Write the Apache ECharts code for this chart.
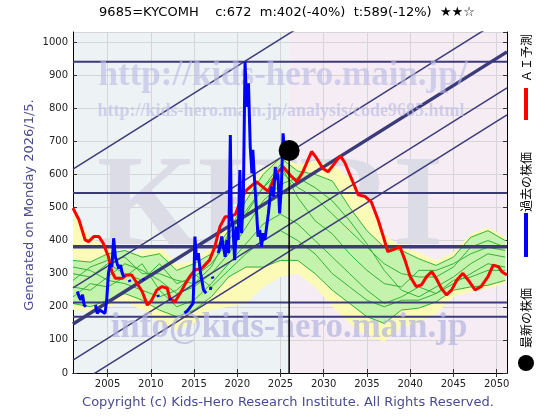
<!DOCTYPE html>
<html><head><meta charset="utf-8">
<script src="https://cdn.jsdelivr.net/npm/echarts@6/dist/echarts.min.js"></script>
<style>html,body{margin:0;padding:0;background:#fff}#c{width:560px;height:420px}</style>
</head><body><div id="c"></div>
<script>
// ---------- data ----------
const titleText = '9685=KYCOMH    c:672  m:402(-40%)  t:589(-12%)  ★★☆';
const xTickYears = [2005,2010,2015,2020,2025,2030,2035,2040,2045,2050];
const latestYear = 2026;
const latestPrice = 672;

const bandYears = [2001,2003,2005,2007,2009,2011,2013,2015,2017,2019,2021,2023,2025,2027,2029,2031,2033,2035,2037,2039,2041,2043,2045,2047,2049,2051];
const yellowUpper = [490,410,380,350,370,385,330,340,380,450,540,620,650,630,640,630,590,520,420,380,365,340,365,420,440,410];
const yellowLower = [190,185,200,215,190,150,130,150,190,200,210,260,290,300,260,200,150,110,95,140,150,180,230,245,255,270];
const greenUpper  = [340,335,360,370,350,360,310,330,360,430,520,600,650,610,600,580,500,430,380,370,345,325,350,410,430,400];
const greenLower  = [210,200,220,240,220,190,170,190,230,290,320,320,340,340,300,250,210,170,150,190,196,215,250,260,265,280];
const path1 = [300,290,330,300,280,330,270,290,330,400,480,560,610,560,530,480,430,380,330,300,290,290,320,380,400,380];
const path2 = [260,250,290,330,310,280,240,260,300,360,440,520,570,590,560,520,460,390,310,250,230,260,290,330,360,350];
const path3 = [230,270,260,290,330,250,200,220,270,330,390,450,480,450,400,350,300,250,210,230,260,240,270,300,330,320];
const path4 = [320,310,280,270,250,230,250,300,260,310,360,400,430,400,360,300,260,220,200,220,220,240,280,290,310,310];
const path5 = [280,320,340,350,300,300,280,270,320,420,490,560,630,530,460,420,360,310,270,260,310,310,330,360,380,370];

const redYears = [2001.0,2001.7,2002.4,2002.8,2003.4,2004.0,2004.5,2005.1,2005.5,2005.9,2006.7,2007.2,2007.8,2008.4,2009.0,2009.6,2010.1,2010.7,2011.3,2011.9,2012.2,2012.8,2013.4,2014.0,2014.5,2015.1,2015.9,2016.8,2017.4,2018.0,2018.6,2019.2,2019.8,2020.5,2021.1,2022.2,2023.6,2024.5,2025.3,2026.1,2026.9,2027.6,2028.6,2029.2,2029.9,2030.5,2031.1,2031.9,2032.4,2033.2,2034.0,2034.8,2035.5,2036.3,2036.9,2037.4,2038.2,2038.8,2039.4,2040.0,2040.7,2041.3,2041.9,2042.5,2043.0,2043.6,2044.2,2044.8,2045.4,2046.1,2046.7,2047.5,2048.2,2049.0,2049.6,2050.2,2050.6,2051.2];
const redValues = [498,462,402,397,412,412,392,351,306,286,286,296,296,271,246,205,220,251,261,256,226,215,241,270,291,311,316,341,381,442,472,472,480,530,553,578,548,603,623,598,578,608,669,648,618,608,628,656,638,588,538,533,517,462,412,367,374,382,341,291,261,266,291,306,286,256,236,251,281,301,281,251,261,291,326,321,306,296];

const blueYears = [2001.5,2001.7,2001.9,2002.1,2002.3,2002.5,2003.0,
  2003.6,2003.8,2004.1,2004.3,2004.7,2004.9,2005.1,2005.3,2005.5,2005.7,2005.9,2006.1,2006.3,2006.5,2006.7,2006.9,2007.2,
  2007.5,2007.6,2008.3, 2009.1,2009.2,2010.0, 2010.8,2010.9,2011.5, 2012.2,2012.3,2013.0,
  2013.9,2014.1,2014.3,2014.5,2014.9,2015.0,2015.1,2015.3,2015.5,2015.7,2015.9,2016.1,2016.4,
  2016.8,2016.9,2016.95, 2017.0,2017.1,2017.2,
  2017.4,2017.8,2018.0,2018.2,2018.6,2018.8,2019.0,2019.2,2019.3,2019.5,2019.7,2019.9,2020.1,2020.3,2020.5,2020.7,2020.9,2021.1,2021.3,2021.5,2021.7,2021.8,2022.0,2022.2,2022.4,2022.6,2022.8,2023.0,2023.2,2023.4,2023.6,2023.8,2024.0,2024.2,2024.4,2024.5,2024.7,2024.9,2025.1,2025.3,2025.5,2025.7,2025.9];
const bluePrices = [246,231,221,236,205,200,null,
  205,180,190,185,180,221,301,331,321,407,351,331,316,326,301,290,null,
  281,275,null, 287,280,null, 236,230,null, 226,220,null,
  181,186,190,196,211,300,412,341,362,311,281,251,241,null,
  251,260,null, 291,285,null,
  362,382,412,351,402,362,719,482,442,341,442,402,613,422,523,940,804,875,684,603,674,583,502,412,432,382,422,402,442,482,533,563,533,623,583,603,482,563,724,653,674,653,672];

const hLineValues = [940, 544, 381, 213, 170];
const hLineWidths = [2, 2, 3.5, 2, 2];
const trendStartYear = 2001, trendEndYear = 2051.2;
const trendStartValues = [616, 257, 148, 39, -42];
const trendEndValues = [1438, 1079, 970, 861, 780];
const trendWidths = [1.5, 1.5, 3.5, 1.5, 1.5];

// ---------- chart ----------
const X_MIN = 2001, X_MAX = 2051.2, Y_MIN = 0, Y_MAX = 1030;
const NAVY = '#3b3b7a';
const chart = echarts.init(document.getElementById('c'), null, {renderer: 'canvas'});
const zip = (xs, vs) => xs.map((x, i) => [x, vs[i] == null ? '-' : vs[i]]);
const series = [];

function band(lower, upper, color) {
  series.push({type: 'custom', silent: true, z: 2, animation: false, clip: true,
    data: [[bandYears[0], lower[0]]],
    renderItem: function (params, api) {
      const pts = [];
      for (let i = 0; i < bandYears.length; i++) pts.push(api.coord([bandYears[i], upper[i]]));
      for (let i = bandYears.length - 1; i >= 0; i--) pts.push(api.coord([bandYears[i], lower[i]]));
      return {type: 'polygon', shape: {points: pts}, style: {fill: color, stroke: null}};
    }});
}
band(yellowLower, yellowUpper, '#fbfab6');
band(greenLower, greenUpper, '#c3f3ac');
[greenUpper, greenLower, path1, path2, path3, path4, path5].forEach(p => {
  series.push({type: 'line', data: zip(bandYears, p), symbol: 'none', silent: true,
    lineStyle: {color: '#36b236', width: 1}, z: 2.5, animation: false});
});
hLineValues.forEach((v, i) => {
  series.push({type: 'line', data: [[X_MIN, v], [X_MAX, v]], symbol: 'none', silent: true,
    lineStyle: {color: NAVY, width: hLineWidths[i]}, z: 3, animation: false});
});
trendStartValues.forEach((v, i) => {
  series.push({type: 'line', data: [[trendStartYear, v], [trendEndYear, trendEndValues[i]]], symbol: 'none', silent: true,
    clip: true, lineStyle: {color: NAVY, width: trendWidths[i]}, z: 3, animation: false});
});
series.push({type: 'line', data: zip(redYears, redValues), symbol: 'none', lineStyle: {color: '#ff0000', width: 3}, z: 4, animation: false});
series.push({type: 'line', data: zip(blueYears, bluePrices), symbol: 'none', connectNulls: false, lineStyle: {color: '#0000ff', width: 3}, z: 4, animation: false});
series.push({type: 'line', data: [[latestYear, 0], [latestYear, latestPrice]], symbol: 'none', lineStyle: {color: '#000', width: 1.5}, z: 4, animation: false});
series.push({type: 'scatter', data: [[latestYear, latestPrice]], symbol: 'circle', symbolSize: 21, itemStyle: {color: '#000', opacity: 1}, z: 5, animation: false});

const axisFont = {fontFamily: 'DejaVu Sans', fontSize: 10, color: '#222', formatter: v => String(v)};
const option = {
  animation: false,
  backgroundColor: '#fff',
  grid: {left: 73, right: 53, top: 32, bottom: 47},
  xAxis: [
    {type: 'value', min: X_MIN, max: X_MAX, position: 'bottom',
     axisLine: {show: true, lineStyle: {color: '#000', width: 1}},
     axisTick: {show: true, inside: true, length: 4, customValues: xTickYears, lineStyle: {color: '#333'}},
     axisLabel: Object.assign({customValues: xTickYears, margin: 6}, axisFont),
     splitLine: {show: true, lineStyle: {color: '#d6d6d6', width: 1}}},
    {type: 'value', min: X_MIN, max: X_MAX, position: 'top',
     axisLine: {show: true, lineStyle: {color: '#000', width: 1}},
     axisTick: {show: true, inside: true, length: 4, customValues: xTickYears, lineStyle: {color: '#333'}},
     axisLabel: {show: false}, splitLine: {show: false}}
  ],
  yAxis: [
    {type: 'value', min: Y_MIN, max: Y_MAX, interval: 100, position: 'left',
     axisLine: {show: true, lineStyle: {color: '#000', width: 1}},
     axisTick: {show: true, inside: true, length: 4, lineStyle: {color: '#333'}},
     axisLabel: Object.assign({showMaxLabel: false, margin: 5}, axisFont),
     splitLine: {show: true, lineStyle: {color: '#d6d6d6', width: 1}}},
    {type: 'value', min: Y_MIN, max: Y_MAX, interval: 100, position: 'right',
     axisLine: {show: true, lineStyle: {color: '#000', width: 1}},
     axisTick: {show: true, inside: true, length: 4, lineStyle: {color: '#333'}},
     axisLabel: {show: false}, splitLine: {show: false}}
  ],
  series: series
};
chart.setOption(option);

const px = v => chart.convertToPixel({xAxisIndex: 0}, v);
const py = v => chart.convertToPixel({yAxisIndex: 0}, v);
const xL = px(X_MIN), xS = px(latestYear), xR = px(X_MAX), yT = py(Y_MAX), yB = py(Y_MIN);
const wm = (text, x, y, size, z, fill, op) => ({type: 'text', x: x, y: y, z: z, silent: true,
  style: {text: text, x: 0, y: 0, align: 'center', verticalAlign: 'middle', fill: fill, opacity: op,
    font: 'bold ' + size + 'px "Liberation Serif", serif'}});
const rotText = (text, x, y, size, fill, family) => ({type: 'text', x: x, y: y, rotation: Math.PI / 2, z: 10,
  style: {text: text, x: 0, y: 0, align: 'center', verticalAlign: 'middle', fill: fill,
    font: size + 'px ' + family}});

chart.setOption({graphic: [
  {type: 'rect', z: -1, silent: true, shape: {x: xL, y: yT, width: xS - xL, height: yB - yT}, style: {fill: '#edf2f4'}},
  {type: 'rect', z: -1, silent: true, shape: {x: xS, y: yT, width: xR - xS, height: yB - yT}, style: {fill: '#f6edf4'}},
  wm('KHRI', 270, 210, 130, 1, '#dcdce6', 1),
  wm('http://kids-hero.main.jp/', 283, 76, 35, 3.5, '#bcbce6', 0.65),
  wm('http://kids-hero.main.jp/analysis/code9685.html', 281, 111, 18, 3.5, '#bcbce6', 0.65),
  wm('info@kids-hero.main.jp', 289, 328, 35, 3.5, '#b4b4e0', 0.7),
  {type: 'text', x: 287, y: 13, z: 10, style: {text: titleText, x: 0, y: 0, align: 'center', verticalAlign: 'middle', fill: '#000', font: '13px "DejaVu Sans", sans-serif'}},
  {type: 'text', x: 288, y: 403, z: 10, style: {text: 'Copyright (c) Kids-Hero Research Institute. All Rights Reserved.', x: 0, y: 0, align: 'center', verticalAlign: 'middle', fill: '#4b4b8f', font: '13px "DejaVu Sans", sans-serif'}},
  rotText('Generated on Monday 2026/1/5.', 30, 205, 13, '#4b4b8f', '"DejaVu Sans", sans-serif'),
  rotText('ＡＩ予測', 526, 58, 12, '#000', '"Noto Sans CJK JP", sans-serif'),
  {type: 'rect', z: 10, shape: {x: 524, y: 88, width: 4, height: 32}, style: {fill: '#ff0000'}},
  rotText('過去の株価', 526, 182, 12, '#000', '"Noto Sans CJK JP", sans-serif'),
  {type: 'rect', z: 10, shape: {x: 524, y: 213, width: 4, height: 44}, style: {fill: '#0000ff'}},
  rotText('最新の株価', 526, 318, 12, '#000', '"Noto Sans CJK JP", sans-serif'),
  {type: 'circle', z: 10, shape: {cx: 526, cy: 363, r: 8}, style: {fill: '#000'}}
]});
</script></body></html>
